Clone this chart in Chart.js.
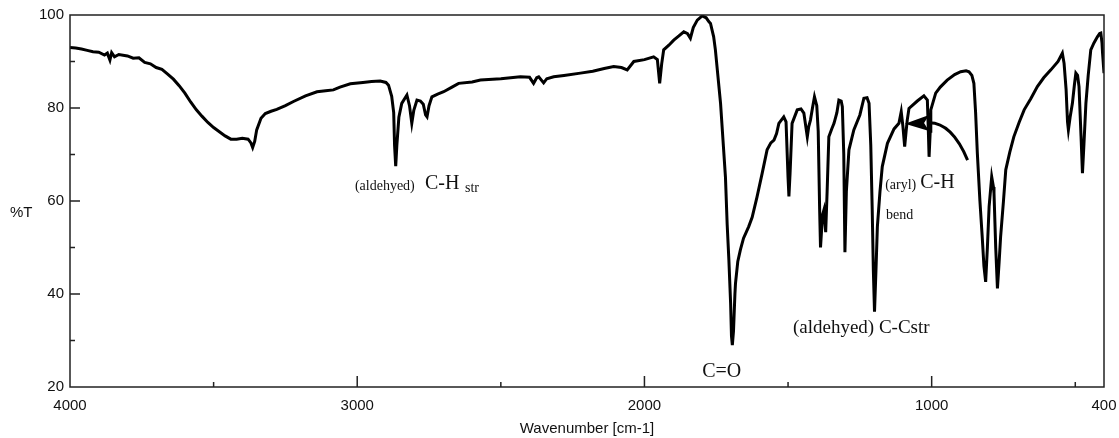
<html>
<head>
  <title>IR spectrum</title>
  <script src="https://cdn.jsdelivr.net/npm/chart.js"></script>
  <style>
    body { margin: 0; background: #fff; }
  </style>
</head>
<body>
  <canvas id="irChart" width="1119" height="438"></canvas>

  <script>
    // Spectrum (wavenumber in cm-1, %T)
    const wavenumber = [
      4000, 3980, 3960, 3940, 3920, 3900, 3880, 3870, 3861, 3855, 3845, 3830, 3800, 3780, 3760, 3740, 3720, 3700,
      3680, 3660, 3640, 3620, 3600, 3580, 3560, 3540, 3520, 3500, 3480, 3460, 3440, 3420, 3400, 3380, 3370, 3364,
      3357, 3350, 3335, 3320, 3300, 3280, 3250, 3222, 3180, 3140, 3110, 3083, 3060, 3024, 2980, 2950, 2920, 2900,
      2891, 2880, 2873, 2870, 2866, 2862, 2855, 2845, 2827, 2818, 2810, 2803, 2792, 2780, 2770, 2762, 2757, 2750,
      2740, 2720, 2699, 2670, 2647, 2600, 2571, 2500, 2432, 2400, 2386, 2375, 2368, 2351, 2340, 2316, 2280, 2223,
      2180, 2140, 2107, 2080, 2060, 2037, 2000, 1968, 1955, 1947, 1940, 1933, 1915, 1898, 1880, 1863, 1850, 1840,
      1830, 1816, 1799, 1785, 1776, 1770, 1759, 1753, 1735, 1718, 1712, 1706, 1700, 1697, 1694, 1690, 1685, 1683,
      1675, 1666, 1655, 1637, 1625, 1608, 1590, 1573, 1560, 1549, 1540, 1532, 1515, 1507, 1500, 1497, 1493, 1486,
      1468, 1455, 1445, 1433, 1428, 1422, 1415, 1408, 1400, 1395, 1390, 1387, 1380, 1375, 1369, 1364, 1358, 1348,
      1340, 1330, 1323, 1315, 1311, 1306, 1302, 1297, 1288, 1271, 1250, 1236, 1225, 1218, 1212, 1207, 1203, 1199,
      1194, 1189, 1180, 1172, 1154, 1131, 1114, 1106, 1100, 1094, 1089, 1085, 1079, 1050, 1027, 1015, 1012, 1009,
      1005, 1003, 986, 970, 946, 920, 899, 880, 870, 860, 853, 847, 841, 832, 824, 818, 812, 806,
      800, 791, 785, 783, 777, 771, 765, 760, 750, 742, 728, 714, 695, 678, 655, 632, 610, 585,
      560, 545, 539, 532, 527, 524, 518, 510, 503, 498, 492, 487, 480, 475, 470, 463, 455, 446,
      435, 423, 415, 411, 407, 405, 400
    ];
    const transmittance = [
      93.0, 92.9, 92.7, 92.4, 92.1, 92.0, 91.4, 91.8, 90.3, 91.9, 91.0, 91.5, 91.2, 90.7, 90.8, 89.8, 89.5, 88.7,
      88.3, 87.3, 86.2, 84.8, 83.2, 81.3, 79.6, 78.2, 76.9, 75.8, 74.9, 74.0, 73.3, 73.3, 73.5, 73.3, 72.5, 71.5,
      72.8, 75.3, 77.8, 78.8, 79.3, 79.7, 80.5, 81.4, 82.6, 83.5, 83.7, 83.9, 84.5, 85.2, 85.5, 85.7, 85.8, 85.5,
      84.9, 82.5, 79.0, 72.0, 67.5, 72.0, 78.0, 81.0, 82.8, 80.5, 76.7, 79.5, 81.7, 81.5, 80.8, 78.5, 78.1, 80.5,
      82.4, 83.0, 83.5, 84.5, 85.3, 85.6, 86.0, 86.3, 86.7, 86.6, 85.3, 86.5, 86.7, 85.4, 86.3, 86.7, 87.0, 87.5,
      87.9, 88.5, 88.9, 88.7, 88.2, 90.0, 90.4, 91.0, 90.4, 85.3, 89.5, 92.5, 93.5, 94.6, 95.5, 96.4, 96.0, 95.0,
      97.3, 98.9, 99.8, 99.4, 98.6, 98.2, 95.3, 92.5, 81.0, 65.2, 55.0, 47.3, 38.0, 31.0, 29.0, 32.0, 40.0, 42.3,
      47.0, 49.5, 52.0, 54.5, 56.5, 60.9, 66.0, 71.0, 72.5, 73.1, 74.5, 76.7, 78.1, 77.0, 65.0, 61.0, 66.0, 76.7,
      79.6, 79.8, 78.9, 73.8, 76.0, 77.4, 80.0, 82.4, 80.5, 75.0, 58.0, 50.0, 57.0, 58.1, 53.3, 62.0, 73.8, 75.5,
      76.7, 79.0, 81.7, 81.5, 80.3, 70.0, 49.0, 62.0, 71.0, 75.3, 78.5, 82.1, 82.2, 81.0, 72.0, 58.1, 45.0, 36.2,
      45.0, 54.5, 62.0, 67.4, 72.4, 75.5, 76.7, 79.2, 76.0, 71.7, 75.0, 77.4, 79.9, 81.5, 82.6, 81.7, 76.0, 69.5,
      75.0, 79.6, 83.2, 84.5, 86.0, 87.2, 87.8, 88.0, 87.8, 87.0, 85.3, 79.0, 70.3, 60.0, 52.3, 46.0, 42.6, 50.0,
      58.8, 65.2, 63.0, 61.7, 50.0, 41.2, 47.0, 52.3, 60.0, 66.7, 70.5, 73.8, 77.0, 79.6, 82.0, 84.6, 86.5, 88.2,
      90.0, 91.8, 89.6, 84.0, 77.0, 75.3, 78.0, 81.0, 85.0, 87.5, 87.0, 84.6, 74.0, 66.0, 72.0, 81.0, 87.0, 92.5,
      94.0, 95.3, 96.0, 96.1, 94.0, 91.8, 87.5
    ];

    // Axis ticks
    const xLabelTicks = [4000, 3000, 2000, 1000, 400];
    const xMajorMarks = [3000, 2000, 1000];
    const xMinorMarks = [3500, 2500, 1500, 500];
    const yLabelTicks = [20, 40, 60, 80, 100];
    const yMajorMarks = [40, 60, 80];
    const yMinorMarks = [30, 50, 70, 90];

    // Peak annotations (left edge / baseline in data units)
    const notes = [
      { text: '(aldehyed)', wn: 3008, t: 62.4, size: 14 },
      { text: 'C-H', wn: 2764, t: 62.6, size: 20 },
      { text: 'str', wn: 2625, t: 61.9, size: 14 },
      { text: 'C=O', wn: 1799, t: 22.2, size: 20 },
      { text: '(aldehyed) C-Cstr', wn: 1483, t: 31.6, size: 19 },
      { text: '(aryl)', wn: 1162, t: 62.6, size: 14 },
      { text: 'C-H', wn: 1040, t: 62.8, size: 20 },
      { text: 'bend', wn: 1159, t: 56.1, size: 14 }
    ];
    const arrowStart = [875, 68.8];
    const arrowCtrl = [932, 77.2];
    const arrowEnd = [1016, 76.8];
    const arrowTip = [1093, 76.6];

    // Inward tick marks, frame, %T label and notes
    const decorPlugin = {
      id: 'decor',
      afterDraw(chart) {
        const ctx = chart.ctx;
        const area = chart.chartArea;
        const xs = chart.scales.x;
        const ys = chart.scales.y;
        ctx.save();
        ctx.strokeStyle = '#222';
        ctx.lineWidth = 1.5;
        ctx.strokeRect(area.left, area.top, area.right - area.left, area.bottom - area.top);

        ctx.beginPath();
        xMajorMarks.forEach(v => {
          const px = xs.getPixelForValue(v);
          ctx.moveTo(px, area.bottom); ctx.lineTo(px, area.bottom - 11);
        });
        xMinorMarks.forEach(v => {
          const px = xs.getPixelForValue(v);
          ctx.moveTo(px, area.bottom); ctx.lineTo(px, area.bottom - 5);
        });
        yMajorMarks.forEach(v => {
          const py = ys.getPixelForValue(v);
          ctx.moveTo(area.left, py); ctx.lineTo(area.left + 10, py);
        });
        yMinorMarks.forEach(v => {
          const py = ys.getPixelForValue(v);
          ctx.moveTo(area.left, py); ctx.lineTo(area.left + 5, py);
        });
        ctx.stroke();

        ctx.fillStyle = '#111';
        ctx.font = '15px "Liberation Sans", Arial, sans-serif';
        ctx.textBaseline = 'middle';
        ctx.fillText('%T', 10, ys.getPixelForValue(57.5));

        ctx.textBaseline = 'alphabetic';
        notes.forEach(n => {
          ctx.font = n.size + 'px "Liberation Serif", "Times New Roman", serif';
          ctx.fillText(n.text, xs.getPixelForValue(n.wn), ys.getPixelForValue(n.t));
        });

        // curved arrow
        const sx = xs.getPixelForValue(arrowStart[0]), sy = ys.getPixelForValue(arrowStart[1]);
        const cx = xs.getPixelForValue(arrowCtrl[0]), cy = ys.getPixelForValue(arrowCtrl[1]);
        const ex = xs.getPixelForValue(arrowEnd[0]), ey = ys.getPixelForValue(arrowEnd[1]);
        const tx = xs.getPixelForValue(arrowTip[0]), ty = ys.getPixelForValue(arrowTip[1]);
        ctx.strokeStyle = '#000';
        ctx.lineWidth = 3;
        ctx.beginPath();
        ctx.moveTo(sx, sy);
        ctx.quadraticCurveTo(cx, cy, ex, ey);
        ctx.stroke();
        ctx.fillStyle = '#000';
        ctx.beginPath();
        ctx.moveTo(tx, ty);
        ctx.lineTo(ex + 2, ey - 8);
        ctx.lineTo(ex - 3, ey);
        ctx.lineTo(ex + 2, ey + 8);
        ctx.closePath();
        ctx.fill();
        ctx.restore();
      }
    };

    const points = wavenumber.map((w, i) => ({ x: w, y: transmittance[i] }));

    new Chart(document.getElementById('irChart'), {
      type: 'line',
      data: {
        datasets: [{
          data: points,
          borderColor: '#000',
          borderWidth: 3,
          pointRadius: 0,
          tension: 0,
          fill: false
        }]
      },
      options: {
        responsive: false,
        animation: false,
        devicePixelRatio: 1,
        layout: { padding: { top: 15, right: 0, left: 0, bottom: 0 } },
        plugins: {
          legend: { display: false },
          tooltip: { enabled: false }
        },
        scales: {
          x: {
            type: 'linear',
            reverse: true,
            min: 400,
            max: 4000,
            afterFit(scale) {
              scale.height = 51;
              scale.paddingLeft = 0;
              scale.paddingRight = 15;
            },
            afterBuildTicks(scale) { scale.ticks = xLabelTicks.map(v => ({ value: v })); },
            grid: { display: false, drawTicks: false },
            border: { display: false },
            ticks: {
              padding: 10,
              maxRotation: 0,
              autoSkip: false,
              color: '#111',
              callback: v => String(v),
              font: { family: '"Liberation Sans", Arial, sans-serif', size: 15 }
            },
            title: {
              display: true,
              text: 'Wavenumber [cm-1]',
              color: '#111',
              padding: { top: 2, bottom: 0 },
              font: { family: '"Liberation Sans", Arial, sans-serif', size: 15 }
            }
          },
          y: {
            min: 20,
            max: 100,
            afterFit(scale) {
              scale.width = 70;
              scale.paddingTop = 0;
              scale.paddingBottom = 0;
            },
            afterBuildTicks(scale) { scale.ticks = yLabelTicks.map(v => ({ value: v })); },
            grid: { display: false, drawTicks: false },
            border: { display: false },
            ticks: {
              padding: 6,
              color: '#111',
              font: { family: '"Liberation Sans", Arial, sans-serif', size: 15 }
            }
          }
        }
      },
      plugins: [decorPlugin]
    });
  </script>
</body>
</html>
